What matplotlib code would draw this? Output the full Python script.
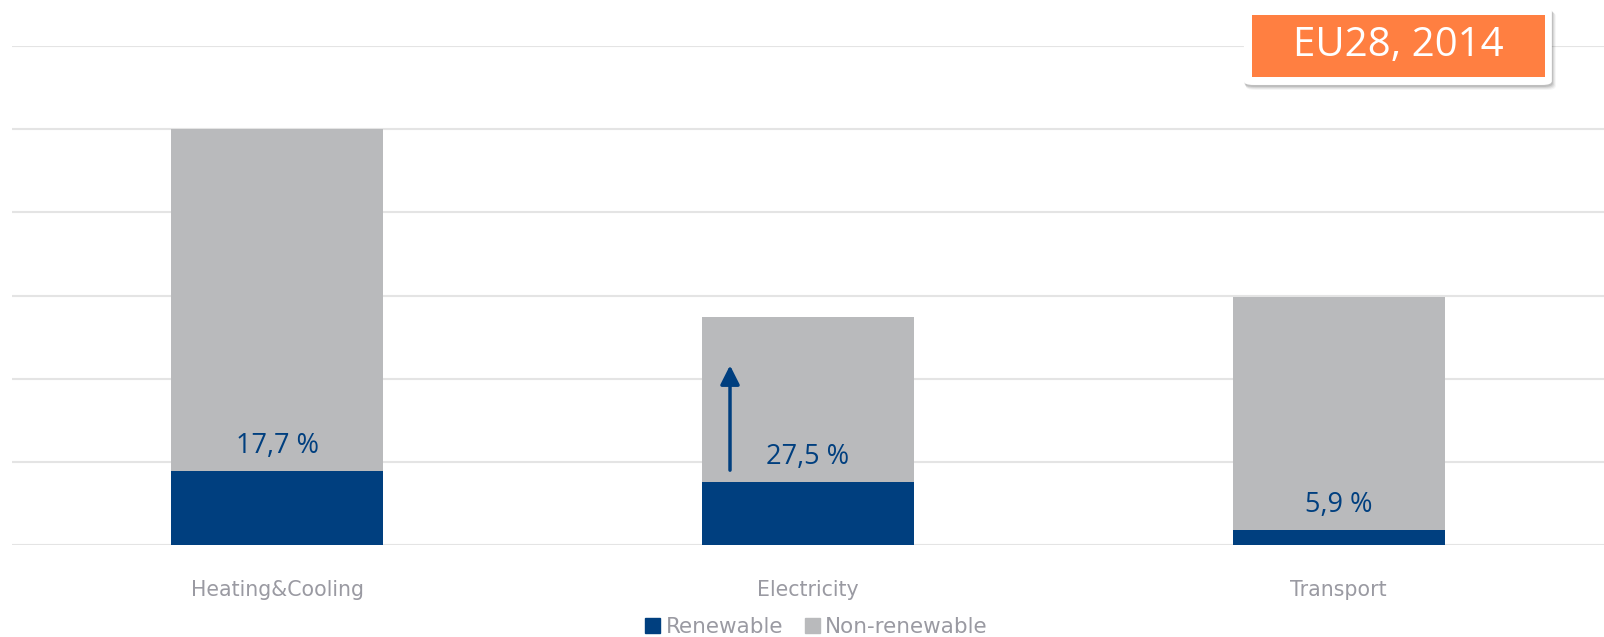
"""
    Renewable share per sector, EU28 2014
"""

import matplotlib
import matplotlib.pyplot as plt
from matplotlib.patches import Patch, Rectangle, FancyBboxPatch

matplotlib.use('agg')

# data (Mtoe)
sectors = ['Heating&Cooling', 'Electricity', 'Transport']
renewable = [88.5, 75.4, 17.6]
nonRenewable = [411.5, 198.6, 280.4]
shareLabels = ['17,7 %', '27,5 %', '5,9 %']
seriesNames = ['Renewable', 'Non-renewable']
badgeText = 'EU28, 2014'

blue = '#003f7f'
grey = '#b9babc'
textGrey = '#9a9aa2'
orange = '#ff7f41'

fig = plt.figure(figsize=(16.04, 6.37), dpi=100)
ax = fig.add_axes([0.0075, 0.1444, 0.9925, 0.7834])

xPos = range(len(sectors))
ax.bar(xPos, renewable, width=0.4, color=blue, zorder=3)
ax.bar(xPos, nonRenewable, width=0.4, bottom=renewable, color=grey, zorder=3)

# share labels just above the renewable part
for x, r, lab in zip(xPos, renewable, shareLabels):
    ax.annotate(lab, (x, r), xytext=(0, 13), textcoords='offset points',
                ha='center', va='baseline', fontsize=19.5, color=blue,
                family=['Open Sans', 'DejaVu Sans'], zorder=5)

# growth arrow on electricity bar
ax.annotate('', xy=(0.853, 216), xytext=(0.853, 90),
            arrowprops=dict(arrowstyle='-|>,head_width=0.58,head_length=1.15',
                            color=blue, lw=2.5, shrinkA=0, shrinkB=0),
            zorder=5)

ax.set_xlim(-0.5, 2.5)
ax.set_ylim(0, 600)
ax.set_yticks(range(0, 601, 100))
ax.yaxis.grid(True, color='#e4e4e4', linewidth=1.5, zorder=0)
ax.tick_params(axis='y', left=False, labelleft=False)
ax.tick_params(axis='x', bottom=False, pad=22, labelsize=14.8, labelcolor=textGrey)
ax.set_xticks(list(xPos))
ax.set_xticklabels(sectors)
for side in ['left', 'right', 'top', 'bottom']:
    ax.spines[side].set_visible(False)

handles = [Patch(color=blue), Patch(color=grey)]
fig.legend(handles, seriesNames, loc='center', bbox_to_anchor=(0.509, 0.015),
           ncol=2, frameon=False, fontsize=15.5, labelcolor=textGrey,
           handlelength=0.7, handleheight=0.7, handletextpad=0.25,
           columnspacing=1.0, borderaxespad=0)

# badge in upper right corner, soft shadow built from a few faint layers
bx, by, bw, bh = 0.7755, 0.8666, 0.192, 0.1224
for i, a in enumerate([0.10, 0.08, 0.06, 0.04]):
    dx = (1 + i) / 1604
    dy = (2 + i) / 637
    sh = FancyBboxPatch((bx + dx * 0.5, by - dy), bw + dx * 0.5, bh,
                        boxstyle='round,pad=0,rounding_size=0.006',
                        transform=fig.transFigure, facecolor='black',
                        edgecolor='none', alpha=a, zorder=9)
    fig.patches.append(sh)
box = FancyBboxPatch((bx, by), bw, bh,
                     boxstyle='round,pad=0,rounding_size=0.006',
                     transform=fig.transFigure, facecolor='white',
                     edgecolor='none', zorder=10)
fig.patches.append(box)
fig.patches.append(Rectangle((0.7805, 0.879), 0.1827, 0.0973,
                             transform=fig.transFigure, facecolor=orange,
                             edgecolor='none', zorder=11))
fig.text(0.8719, 0.928, badgeText, ha='center', va='center', fontsize=29,
         color='white', family=['Open Sans', 'DejaVu Sans'], zorder=12)

fig.savefig('out.png', dpi=100)
